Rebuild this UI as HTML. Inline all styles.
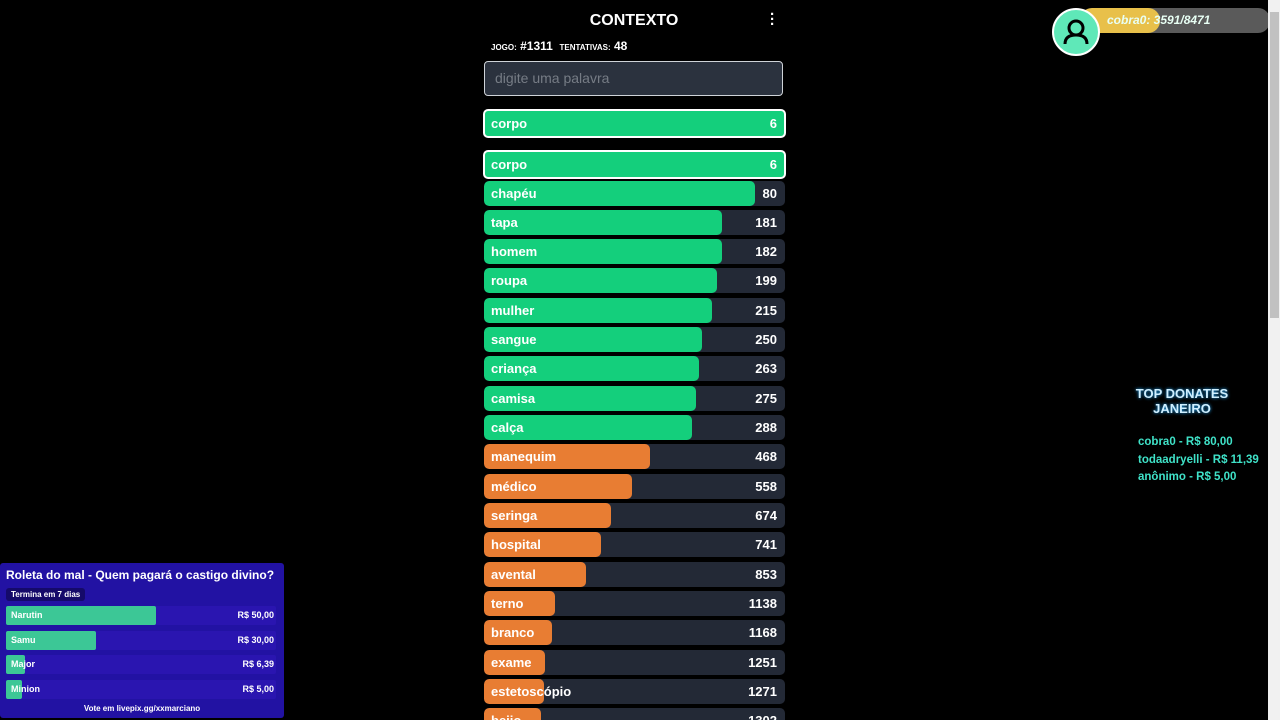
<!DOCTYPE html>
<html><head><meta charset="utf-8">
<style>
html,body{margin:0;padding:0;background:#000;width:1280px;height:720px;overflow:hidden;font-family:"Liberation Sans",sans-serif;color:#fff}
.abs{position:absolute}
.row{position:absolute;left:484px;width:301px;height:25px;background:#232936;border-radius:5px;overflow:hidden}
.row .bar{position:absolute;left:0;top:0;height:25px;border-radius:5px}
.row .w{position:absolute;left:7px;top:5px;font-size:13px;font-weight:bold;color:#fff}
.row .v{position:absolute;right:8px;top:5px;font-size:13px;font-weight:bold;color:#fff}
.hl{position:absolute;left:483px;width:299px;height:25px;background:#14cf7c;border:2px solid #fff;border-radius:5px}
.hl .w{position:absolute;left:6px;top:5px;font-size:13px;font-weight:bold}
.hl .v{position:absolute;right:7px;top:5px;font-size:13px;font-weight:bold}
.poll-row{position:absolute;left:6px;width:270px;height:19px;background:#2a15b0;border-radius:2px}
.poll-row .pb{position:absolute;left:0;top:0;height:19px;background:#3cc796;border-radius:2px}
.poll-row span{position:absolute;top:4px;font-size:9px;font-weight:bold;color:#fff}
#list{position:absolute;left:0;top:0;width:1280px;height:720px;overflow:hidden}
</style></head><body>
<div class="abs" style="left:560px;top:12px;width:148px;text-align:center;font-size:16px;font-weight:bold">CONTEXTO</div>
<div class="abs" style="left:770px;top:12px;font-size:15px;font-weight:bold;line-height:5px">·<br>·<br>·</div>
<div class="abs" style="left:491px;top:39px;font-size:12px;font-weight:bold"><span style="font-size:8px">JOGO:</span> #1311 &nbsp;<span style="font-size:8px">TENTATIVAS:</span> 48</div>
<div class="abs" style="left:484px;top:61px;width:297px;height:33px;background:#2b323e;border:1px solid #cfd3d8;border-radius:4px;color:#767c85;font-size:14px;line-height:33px;text-indent:10px">digite uma palavra</div>
<div class="hl" style="top:109px"><span class="w">corpo</span><span class="v">6</span></div>
<div class="hl" style="top:150px"><span class="w">corpo</span><span class="v">6</span></div>
<div id="list"></div>

<div class="abs" style="left:1052px;top:8px;width:44px;height:44px;border-radius:50%;background:#5fe8b8;border:2px solid #fff;z-index:2">
<svg width="44" height="44" viewBox="0 0 44 44"><circle cx="22" cy="18" r="7" fill="none" stroke="#000" stroke-width="3"/><path d="M11 34 q0-9 11-9 q11 0 11 9" fill="none" stroke="#000" stroke-width="3"/></svg></div>
<div class="abs" style="left:1080px;top:8px;width:190px;height:25px;background:#5a5a5a;border-radius:12px;overflow:hidden">
<div style="width:80px;height:25px;background:#e8c04a;border-radius:12px"></div></div>
<div class="abs" style="left:1107px;top:13px;font-size:12px;font-weight:bold;font-style:italic;color:#e8fff4">cobra0: 3591/8471</div>

<div class="abs" style="left:1268px;top:0;width:12px;height:720px;background:#f1f1f1"><div style="position:absolute;left:2px;top:12px;width:9px;height:306px;background:#c1c1c1"></div></div>

<div class="abs" style="left:1122px;top:386px;width:120px;text-align:center;font-size:13px;font-weight:bold;color:#cfefff;text-shadow:0 0 3px #2af">TOP DONATES<br>JANEIRO</div>
<div class="abs" style="left:1138px;top:434px;font-size:11.5px;font-weight:bold;color:#3fe2c8;line-height:17.5px">cobra0 - R$ 80,00<br>todaadryelli - R$ 11,39<br>anônimo - R$ 5,00</div>

<div class="abs" style="left:0;top:563px;width:284px;height:155px;background:#2212a3;border-radius:3px">
<div style="position:absolute;left:6px;top:5px;font-size:12px;font-weight:bold">Roleta do mal - Quem pagará o castigo divino?</div>
<div style="position:absolute;left:6px;top:25px;padding:2px 5px;background:#150a6a;border-radius:3px;font-size:8px;font-weight:bold">Termina em 7 dias</div>
<div id="poll"></div>
<div style="position:absolute;left:0;width:284px;top:141px;text-align:center;font-size:8px;font-weight:bold">Vote em livepix.gg/xxmarciano</div>
</div>

<script>
const words=["chapéu","tapa","homem","roupa","mulher","sangue","criança","camisa","calça","manequim","médico","seringa","hospital","avental","terno","branco","exame","estetoscópio","beijo"];
const ranks=[80,181,182,199,215,250,263,275,288,468,558,674,741,853,1138,1168,1251,1271,1302];
const pollNames=["Narutin","Samu","Major","Minion"];
const pollValues=[50,30,6.39,5];
const pollLabels=["R$ 50,00","R$ 30,00","R$ 6,39","R$ 5,00"];
function barW(r){return 300*Math.exp(-0.00127*r);}
function barColor(r){return r<300?"#14cf7c":(r<1500?"#e87d33":"#ef4b60");}
const list=document.getElementById('list');
words.forEach((w,i)=>{
  const r=document.createElement('div');r.className='row';r.style.top=(180.5+i*29.33)+'px';
  
  
  const b=document.createElement('div');b.className='bar';b.style.width=barW(ranks[i])+'px';b.style.background=barColor(ranks[i]);
  
  
  r.appendChild(b);
  const t=document.createElement('span');t.className='w';t.textContent=w;r.appendChild(t);
  const v=document.createElement('span');v.className='v';v.textContent=ranks[i];r.appendChild(v);
  list.appendChild(r);
});
const poll=document.getElementById('poll');const pmax=Math.max(...pollValues);
pollNames.forEach((n,i)=>{
  const r=document.createElement('div');r.className='poll-row';r.style.top=(43+i*24.5)+'px';
  
  
  const b=document.createElement('div');b.className='pb';b.style.width=Math.max(150*pollValues[i]/pmax,16)+'px';
  
  
  r.appendChild(b);
  const a=document.createElement('span');a.style.left='5px';a.textContent=n;r.appendChild(a);
  const c=document.createElement('span');c.style.right='2px';c.textContent=pollLabels[i];r.appendChild(c);
  poll.appendChild(r);
});
</script>
</body></html>
